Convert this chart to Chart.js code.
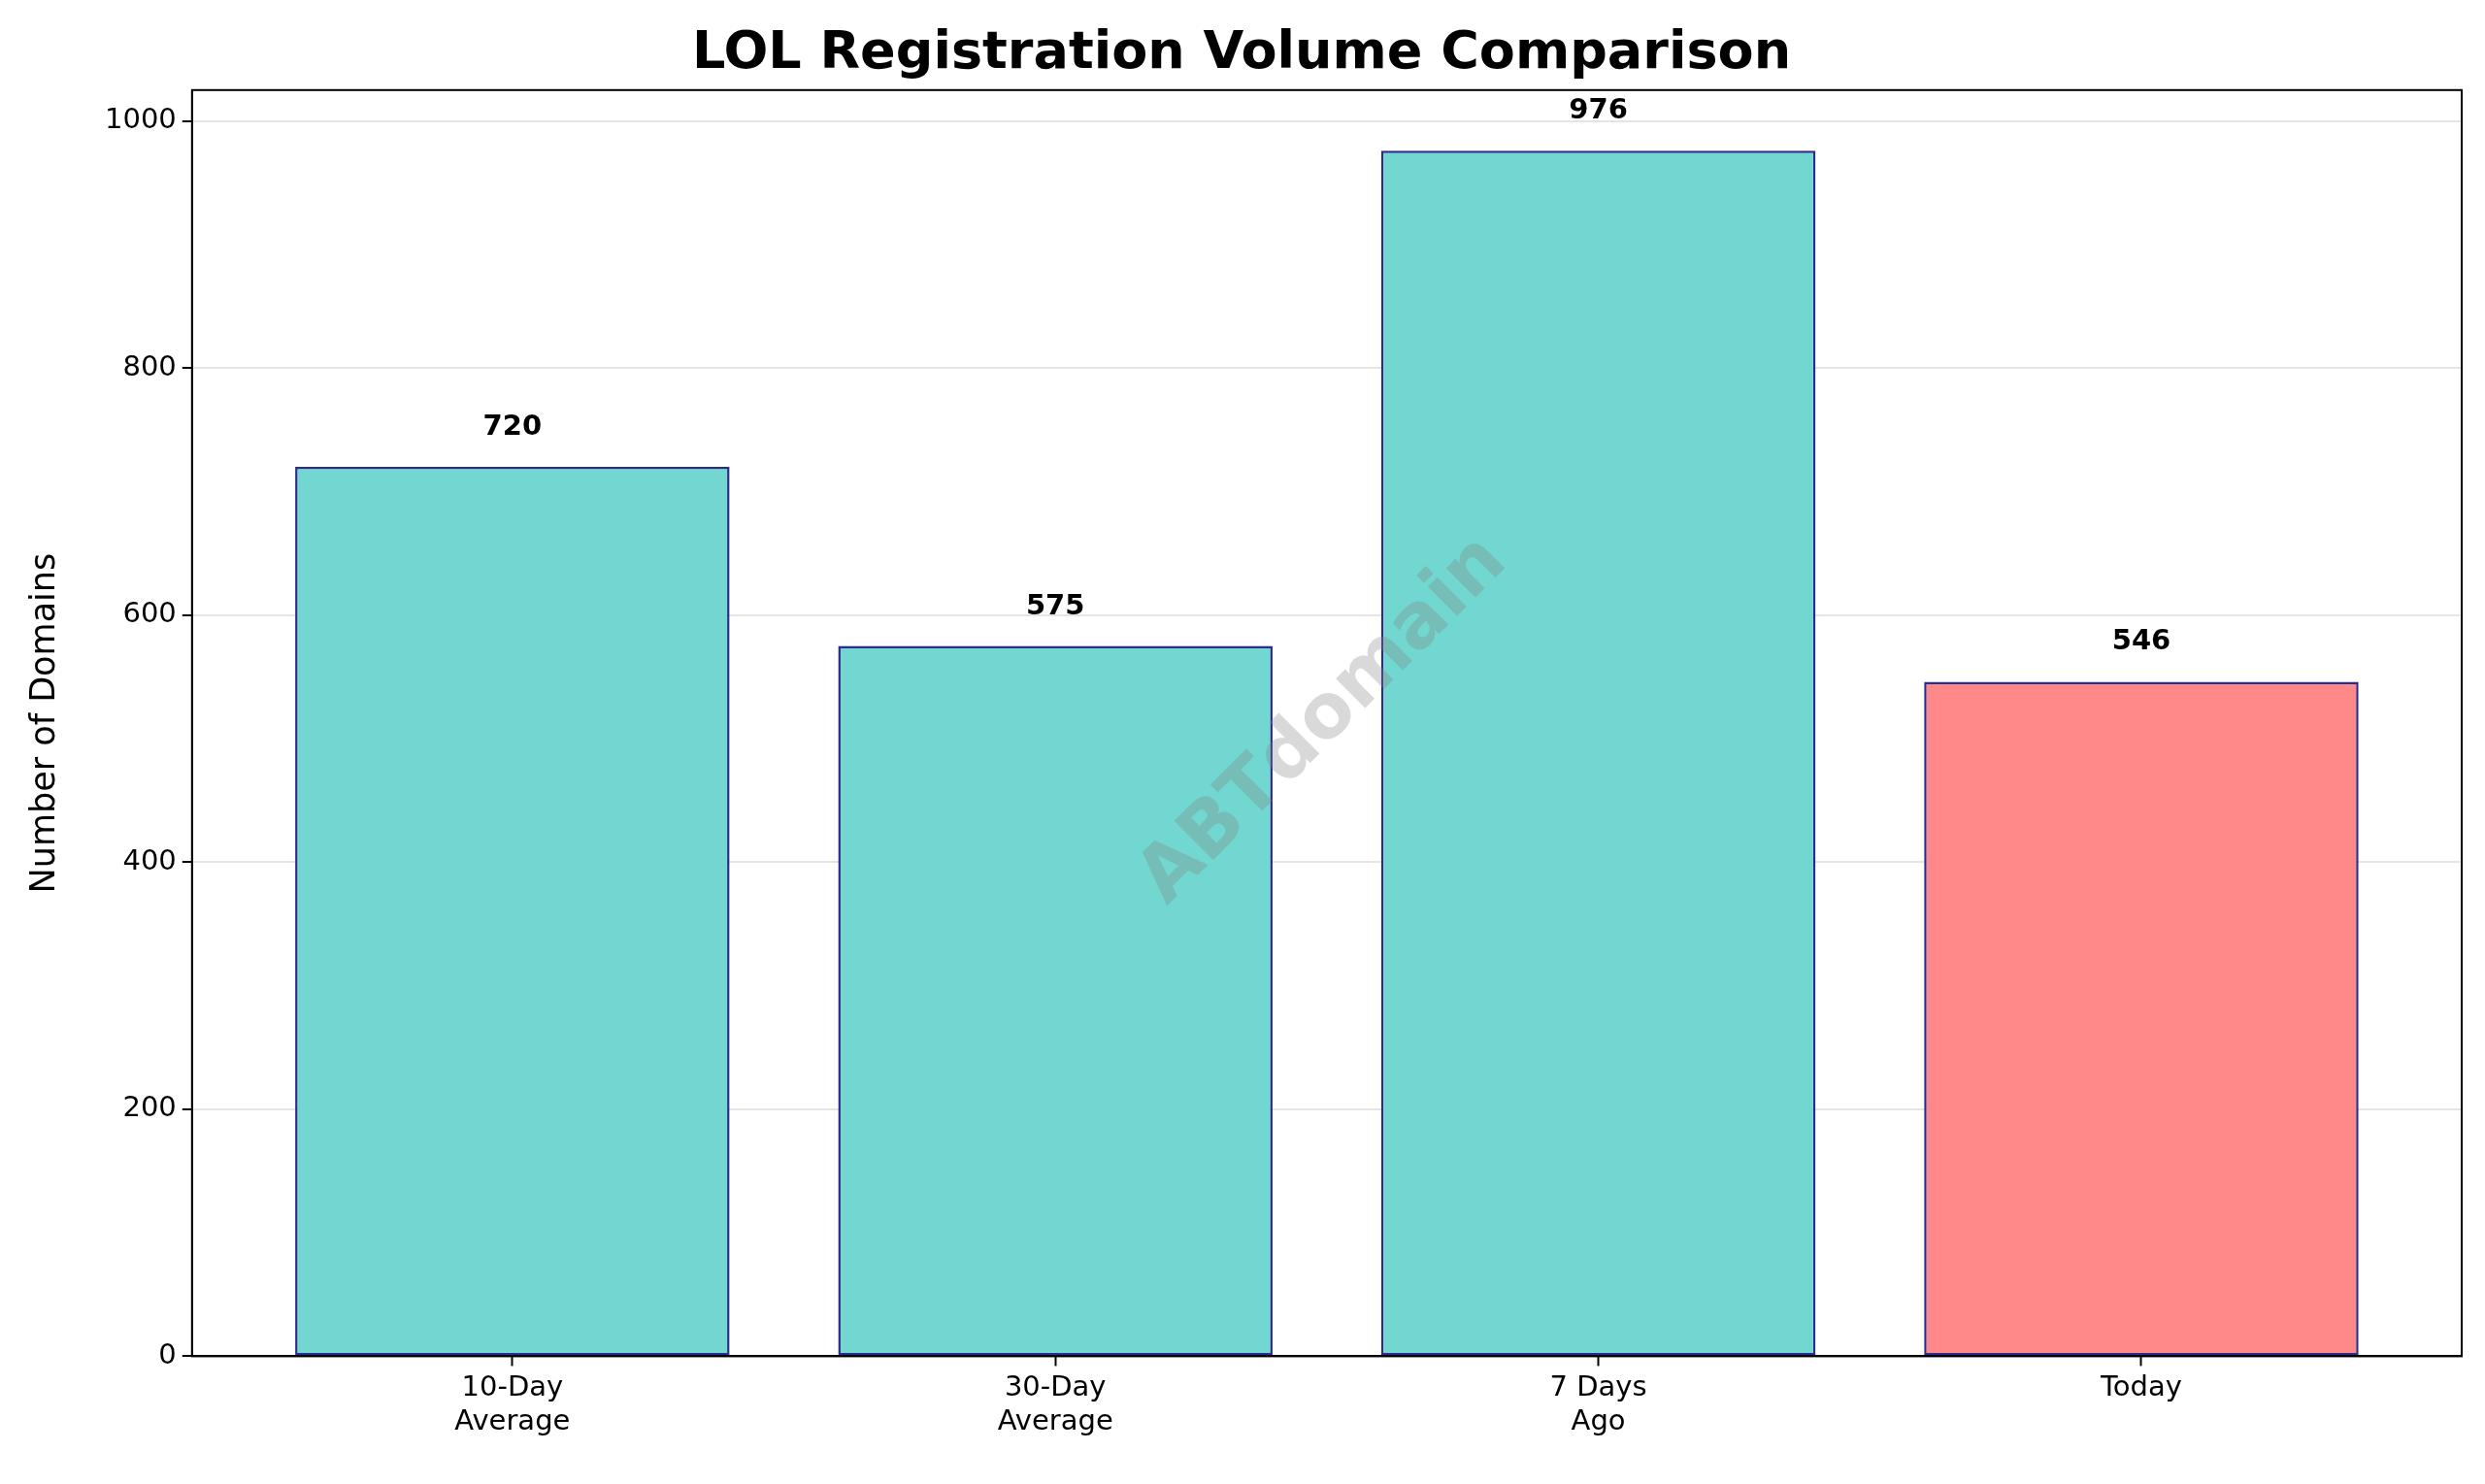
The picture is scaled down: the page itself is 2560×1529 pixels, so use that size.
<!DOCTYPE html>
<html>
<head>
<meta charset="utf-8">
<script src="https://cdn.jsdelivr.net/npm/chart.js@4"></script>
<style>
  body { margin: 0; background: #fff; }
  canvas { display: block; }
</style>
</head>
<body>
<canvas id="grafico" width="2560" height="1529"></canvas>
<script>
// Dados do gráfico
const categorias = [['10-Day', 'Average'], ['30-Day', 'Average'], ['7 Days', 'Ago'], ['Today']];
const valores = [720, 575, 976, 546];
const coresBarras = ['#71D7D0', '#71D7D0', '#71D7D0', '#FF8989'];
const ticksY = [0, 200, 400, 600, 800, 1000];

const fonte = 'DejaVu Sans';

// Fundo branco, moldura dos eixos, rótulos e marca d'água
const pluginExtras = {
    id: 'extras',
    beforeDraw(chart) {
        const ctx = chart.ctx;
        ctx.save();
        ctx.fillStyle = '#fff';
        ctx.fillRect(0, 0, chart.width, chart.height);
        ctx.restore();
    },
    afterDatasetsDraw(chart) {
        const ctx = chart.ctx;
        const area = chart.chartArea;
        const meta = chart.getDatasetMeta(0);
        ctx.save();
        ctx.font = `bold 29px "${fonte}"`;
        ctx.fillStyle = '#000';
        ctx.textAlign = 'center';
        ctx.textBaseline = 'bottom';
        meta.data.forEach((barra, i) => {
            ctx.fillText(valores[i], barra.x, barra.y - 26);
        });
        // marca d'água
        ctx.translate(1364, 743);
        ctx.rotate(-Math.PI / 4);
        ctx.font = `bold 78px "${fonte}"`;
        ctx.fillStyle = 'rgba(128,128,128,0.3)';
        ctx.textBaseline = 'middle';
        ctx.fillText('ABTdomain', 0, 0);
        ctx.restore();
        // moldura
        ctx.save();
        ctx.strokeStyle = '#000';
        ctx.lineWidth = 2;
        ctx.strokeRect(area.left, area.top, area.right - area.left, area.bottom - area.top);
        ctx.restore();
    }
};

new Chart(document.getElementById('grafico'), {
    type: 'bar',
    data: {
        datasets: [{
            data: valores.map((v, i) => ({ x: i, y: v })),
            backgroundColor: coresBarras,
            borderColor: '#2B2B8C',
            borderWidth: 2.5,
            borderSkipped: false,
            categoryPercentage: 1,
            barPercentage: 0.8
        }]
    },
    options: {
        responsive: false,
        devicePixelRatio: 1,
        animation: false,
        layout: { padding: { top: 6, right: 24, left: 22, bottom: 40 } },
        scales: {
            x: {
                type: 'linear',
                offset: false,
                min: -0.59,
                max: 3.59,
                afterBuildTicks: (eixo) => { eixo.ticks = [0, 1, 2, 3].map(v => ({ value: v })); },
                ticks: {
                    color: '#000',
                    font: { family: fonte, size: 29 },
                    padding: 6,
                    callback: (v) => categorias[v]
                },
                grid: { offset: false, drawOnChartArea: false, tickLength: 10, tickColor: '#000', tickWidth: 2 },
                border: { color: '#000', width: 2 }
            },
            y: {
                min: 0,
                max: 1025,
                afterBuildTicks: (eixo) => { eixo.ticks = ticksY.map(v => ({ value: v })); },
                ticks: {
                    color: '#000',
                    font: { family: fonte, size: 29 },
                    padding: 6,
                    callback: (v) => String(v)
                },
                grid: { color: 'rgba(0,0,0,0.1)', lineWidth: 2, tickLength: 10, tickColor: '#000', tickWidth: 2 },
                border: { color: '#000', width: 2 },
                title: {
                    display: true,
                    text: 'Number of Domains',
                    color: '#000',
                    font: { family: fonte, size: 35 },
                    padding: { bottom: 34 }
                }
            }
        },
        plugins: {
            legend: { display: false },
            tooltip: { enabled: false },
            title: {
                display: true,
                text: 'LOL Registration Volume Comparison',
                color: '#000',
                font: { family: fonte, size: 54, weight: 'bold' },
                padding: { top: 18, bottom: 4 }
            }
        }
    },
    plugins: [pluginExtras]
});
</script>
</body>
</html>
